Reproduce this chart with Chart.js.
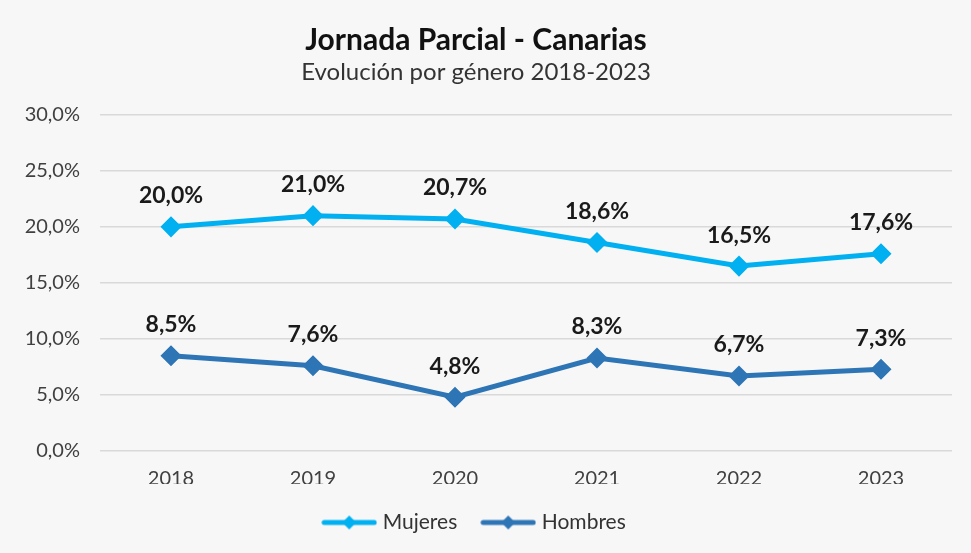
<!DOCTYPE html>
<html>
<head>
<meta charset="utf-8">
<script src="https://cdn.jsdelivr.net/npm/chart.js@4.4.1/dist/chart.umd.min.js"></script>
<style>
  html, body { margin: 0; padding: 0; background: #f7f7f7; }
  #wrap { width: 971px; height: 553px; position: relative; }
</style>
</head>
<body>
<div id="wrap"><canvas id="c" width="971" height="553"></canvas></div>
<script>
const categories = ['2018', '2019', '2020', '2021', '2022', '2023'];
const mujeres = [20.0, 21.0, 20.7, 18.6, 16.5, 17.6];
const hombres = [8.5, 7.6, 4.8, 8.3, 6.7, 7.3];
const seriesNames = ['Mujeres', 'Hombres'];
const titleText = 'Jornada Parcial - Canarias';
const subtitleText = 'Evolución por género 2018-2023';

const FONT = 'Lato';
const C_MUJ = '#00b0f0';
const C_HOM = '#2e75b6';

function fmt(v) { return v.toFixed(1).replace('.', ',') + '%'; }

function legendIcon(color) {
  const cv = document.createElement('canvas');
  cv.width = 56; cv.height = 16;
  const g = cv.getContext('2d');
  g.strokeStyle = color; g.lineWidth = 5; g.lineCap = 'round';
  g.beginPath(); g.moveTo(3, 8); g.lineTo(53, 8); g.stroke();
  g.fillStyle = color;
  g.beginPath(); g.moveTo(28, 1); g.lineTo(35, 8); g.lineTo(28, 15); g.lineTo(21, 8); g.closePath(); g.fill();
  return cv;
}

const bgPlugin = {
  id: 'bg',
  beforeDraw(chart) {
    const ctx = chart.ctx;
    ctx.save();
    ctx.fillStyle = '#f7f7f7';
    ctx.fillRect(0, 0, chart.width, chart.height);
    ctx.restore();
  }
};

const labelPlugin = {
  id: 'pointLabels',
  afterDatasetsDraw(chart) {
    const ctx = chart.ctx;
    ctx.save();
    ctx.font = 'bold 23px ' + FONT;
    ctx.fillStyle = '#1a1a1a';
    ctx.textAlign = 'center';
    ctx.textBaseline = 'middle';
    chart.data.datasets.forEach((ds, i) => {
      const meta = chart.getDatasetMeta(i);
      meta.data.forEach((pt, j) => {
        ctx.fillText(fmt(ds.data[j]), pt.x, pt.y - 31);
      });
    });
    ctx.restore();
  }
};

new Chart(document.getElementById('c'), {
  type: 'line',
  data: {
    labels: categories,
    datasets: [
      { label: seriesNames[0], data: mujeres, borderColor: C_MUJ, backgroundColor: C_MUJ,
        borderWidth: 5, pointStyle: 'rectRot', pointRadius: 7, pointHoverRadius: 7, tension: 0 },
      { label: seriesNames[1], data: hombres, borderColor: C_HOM, backgroundColor: C_HOM,
        borderWidth: 5, pointStyle: 'rectRot', pointRadius: 7, pointHoverRadius: 7, tension: 0 }
    ]
  },
  options: {
    responsive: false,
    animation: false,
    events: [],
    layout: { padding: { left: 0, right: 19, top: 0, bottom: 10 } },
    scales: {
      x: {
        offset: true,
        grid: { display: false, drawTicks: false, offset: true },
        border: { display: false },
        ticks: { color: '#404040', font: { family: FONT, size: 20 }, padding: 16 },
        afterFit(s) { s.height = 33; }
      },
      y: {
        min: 0, max: 30,
        grid: { color: '#d9d9d9', lineWidth: 1.5, drawTicks: false },
        border: { display: false },
        ticks: { stepSize: 5, color: '#404040', font: { family: FONT, size: 20 }, padding: 20,
          callback: v => fmt(v) },
        afterFit(s) { s.width = 100; }
      }
    },
    plugins: {
      title: { display: true, text: titleText, color: '#111', font: { family: FONT, size: 30, weight: 'bold' },
        padding: { top: 22, bottom: 0 } },
      subtitle: { display: true, text: subtitleText, color: '#333', font: { family: FONT, size: 24 },
        padding: { top: 0, bottom: 28 } },
      legend: {
        position: 'bottom',
        labels: {
          usePointStyle: true,
          pointStyleWidth: 46,
          color: '#333',
          font: { family: FONT, size: 21 },
          padding: 28,
          generateLabels(chart) {
            return chart.data.datasets.map((ds, i) => ({
              text: ds.label,
              pointStyle: legendIcon(ds.borderColor),
              fillStyle: ds.borderColor,
              strokeStyle: ds.borderColor,
              lineWidth: 0,
              fontColor: '#333',
              datasetIndex: i,
              hidden: false
            }));
          }
        }
      },
      tooltip: { enabled: false }
    }
  },
  plugins: [bgPlugin, labelPlugin]
});
</script>
</body>
</html>
